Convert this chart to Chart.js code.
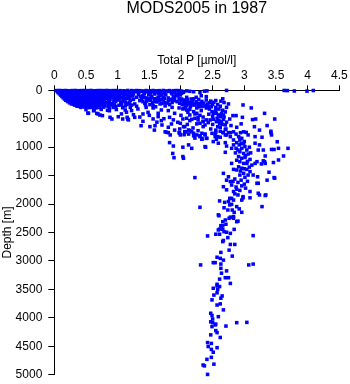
<!DOCTYPE html>
<html>
<head>
<meta charset="utf-8">
<title>MODS2005 in 1987</title>
<script src="https://cdn.jsdelivr.net/npm/chart.js@4.4.0/dist/chart.umd.min.js"></script>
<style>
  html, body { margin: 0; padding: 0; background: #fff; }
  #wrap { width: 350px; height: 384px; }
</style>
</head>
<body>
<div id="wrap"><canvas id="profile" width="350" height="384"></canvas></div>
<script>
/* ===== Data: [total P (µmol/l), depth (m)] ===== */
const pTicks = [0, 0.5, 1, 1.5, 2, 2.5, 3, 3.5, 4, 4.5];
const depthTicks = [0, 500, 1000, 1500, 2000, 2500, 3000, 3500, 4000, 4500, 5000];

// near-surface samples, 0-60 m
const surfaceBand = [
  [0.03, 5], [0.08, 3], [0.13, 6], [0.18, 4], [0.23, 8], [0.28, 5], [0.33, 3], [0.38, 7],
  [0.43, 5], [0.48, 4], [0.53, 6], [0.58, 3], [0.63, 8], [0.68, 5], [0.73, 4], [0.78, 6],
  [0.83, 3], [0.88, 7], [0.93, 5], [0.98, 4], [1.04, 6], [1.1, 8], [1.16, 3], [1.22, 5],
  [1.27, 10], [1.3, 4], [1.35, 7], [1.4, 12], [1.45, 5], [1.51, 8], [1.56, 4], [1.61, 9],
  [1.66, 6], [1.72, 3], [1.77, 11], [1.82, 5], [1.88, 7], [1.93, 4], [1.98, 6], [2.01, 15],
  [2.09, 10], [2.14, 18], [2.37, 14], [2.41, 10], [2.72, 2], [3.63, 3], [3.68, 5], [3.79, 12],
  [3.99, 14], [4.09, 4],
  [0.06, 40], [0.11, 38], [0.16, 42], [0.21, 36], [0.26, 41], [0.31, 39], [0.36, 44], [0.41, 37],
  [0.46, 40], [0.51, 43], [0.56, 38], [0.61, 41], [0.66, 36], [0.71, 42], [0.76, 39], [0.81, 44],
  [0.86, 37], [0.91, 40], [0.97, 43], [1.02, 38], [1.08, 45], [1.13, 35], [1.19, 48],
  [0.05, 22], [0.1, 20], [0.15, 24], [0.2, 19], [0.25, 23], [0.3, 21], [0.35, 25], [0.4, 18],
  [0.45, 22], [0.5, 26], [0.55, 20], [0.6, 23], [0.65, 19], [0.7, 24], [0.75, 21], [0.8, 25],
  [0.85, 18], [0.9, 22], [0.95, 26], [1.0, 20], [1.05, 24], [1.1, 19],
  [1.2, 30], [1.24, 55], [1.28, 25], [1.33, 45], [1.37, 20], [1.42, 40], [1.47, 28], [1.52, 50],
  [1.55, 22], [1.6, 35], [1.64, 50], [1.68, 28], [1.74, 40], [1.8, 20], [1.85, 45], [1.9, 30],
  [1.96, 40], [2.04, 35], [2.2, 25], [2.3, 40]
];

// low-P wedge and its fringe, 50-850 m
const upperWedge = [
  [0.08, 62], [0.13, 58], [0.18, 65], [0.23, 60], [0.28, 64], [0.33, 57], [0.38, 63], [0.43, 61],
  [0.48, 66], [0.53, 59], [0.58, 62], [0.63, 67], [0.68, 60], [0.73, 64], [0.78, 58], [0.83, 63],
  [0.88, 66], [0.93, 61], [0.99, 65], [1.07, 59], [1.16, 68],
  [0.1, 85], [0.15, 92], [0.2, 80], [0.25, 88], [0.3, 84], [0.35, 90], [0.4, 82], [0.45, 87],
  [0.5, 93], [0.55, 81], [0.6, 86], [0.65, 91], [0.7, 83], [0.75, 89], [0.8, 80], [0.85, 94],
  [0.9, 85], [0.96, 79], [1.03, 90], [1.12, 84],
  [0.12, 108], [0.17, 104], [0.22, 111], [0.27, 106], [0.32, 110], [0.37, 103], [0.42, 109],
  [0.47, 112], [0.52, 105], [0.57, 108], [0.62, 113], [0.67, 106], [0.72, 110], [0.77, 104],
  [0.82, 109], [0.87, 114], [0.94, 107], [1.01, 111], [1.09, 105], [1.18, 112],
  [0.14, 130], [0.19, 126], [0.24, 134], [0.29, 128], [0.34, 132], [0.39, 125], [0.44, 131],
  [0.49, 136], [0.54, 127], [0.59, 133], [0.64, 129], [0.69, 135], [0.74, 124], [0.79, 130],
  [0.84, 138], [0.9, 126], [0.98, 133], [1.06, 128], [1.15, 140],
  [0.16, 152], [0.21, 149], [0.26, 155], [0.31, 150], [0.36, 154], [0.41, 147], [0.46, 153],
  [0.51, 156], [0.56, 150], [0.61, 152], [0.66, 157], [0.71, 149], [0.76, 154], [0.82, 151],
  [0.88, 158], [0.95, 150], [1.03, 155], [1.12, 148],
  [0.18, 175], [0.23, 170], [0.28, 178], [0.33, 172], [0.38, 180], [0.43, 174], [0.48, 169],
  [0.53, 177], [0.58, 183], [0.63, 171], [0.68, 176], [0.73, 181], [0.78, 168], [0.86, 179],
  [0.94, 186], [1.0, 172], [1.1, 182],
  [0.21, 198], [0.26, 194], [0.31, 201], [0.36, 196], [0.41, 200], [0.46, 193], [0.51, 199],
  [0.56, 203], [0.61, 195], [0.66, 198], [0.71, 204], [0.79, 196], [0.87, 202], [0.97, 195],
  [1.08, 200],
  [0.24, 220], [0.29, 215], [0.34, 224], [0.39, 218], [0.44, 226], [0.49, 219], [0.54, 213],
  [0.59, 222], [0.64, 228], [0.69, 216], [0.76, 225], [0.82, 219], [0.92, 231], [1.05, 214],
  [0.27, 240], [0.31, 244], [0.36, 238], [0.41, 242], [0.46, 246], [0.51, 239], [0.56, 243],
  [0.61, 237], [0.66, 245], [0.71, 240], [0.78, 244], [0.86, 238], [0.95, 242],
  [0.32, 260], [0.37, 255], [0.42, 264], [0.47, 258], [0.52, 266], [0.57, 261], [0.62, 254],
  [0.67, 268], [0.73, 259], [0.8, 272], [0.9, 256], [1.02, 263], [1.14, 250],
  [0.36, 280], [0.4, 284], [0.45, 278], [0.5, 282], [0.55, 286], [0.6, 279], [0.65, 283],
  [0.7, 277], [0.77, 285], [0.85, 280], [0.97, 284],
  [0.42, 300], [0.48, 296], [0.55, 305], [0.6, 298], [0.66, 310], [0.71, 302], [0.78, 295],
  [0.87, 312], [0.96, 300], [1.08, 306],
  [0.5, 340], [0.63, 345], [0.74, 336], [0.84, 350], [0.98, 338], [1.12, 347],
  [0.53, 400], [0.69, 415], [0.76, 445], [0.88, 475], [0.91, 505], [1.01, 465], [1.06, 415],
  [1.08, 505], [1.15, 475], [1.17, 520], [1.14, 385], [0.62, 360], [0.54, 405], [0.67, 405],
  [0.72, 435], [0.87, 360], [0.93, 300],
  [1.18, 130], [1.2, 175], [1.22, 260], [1.24, 100], [1.17, 240], [1.13, 210], [1.09, 160],
  [1.12, 275], [1.06, 250], [1.2, 300],
  [1.22, 95], [1.3, 123], [1.4, 95], [1.45, 135], [1.53, 112], [1.61, 153], [1.67, 95],
  [1.72, 123], [1.8, 135], [1.88, 112], [1.95, 95], [2.01, 153], [2.09, 123], [2.16, 153],
  [2.24, 123], [2.32, 95], [2.4, 112],
  [1.25, 60], [1.33, 70], [1.42, 60], [1.49, 75], [1.58, 65], [1.7, 70], [1.76, 80], [1.86, 62],
  [1.92, 70], [1.25, 160], [1.38, 150], [1.5, 165], [1.62, 145], [1.72, 170], [1.88, 150],
  [1.36, 110], [1.42, 125], [1.48, 140], [1.54, 125], [1.58, 150], [1.64, 118], [1.68, 160],
  [1.74, 140], [1.8, 185], [1.85, 160], [1.9, 125], [1.94, 200], [1.4, 200], [1.46, 190],
  [1.55, 215], [1.62, 205], [1.7, 230], [1.78, 225], [1.86, 215], [1.44, 255], [1.56, 265],
  [1.66, 180], [1.52, 175],
  [1.19, 211], [1.27, 240], [1.35, 182], [1.43, 228], [1.51, 252], [1.59, 193], [1.67, 240],
  [1.74, 211], [1.82, 252], [1.9, 182], [1.98, 228], [2.09, 270], [2.14, 211], [2.22, 252],
  [2.3, 228], [2.38, 270], [2.05, 200], [2.18, 180], [2.28, 160],
  [1.22, 357], [1.32, 328], [1.4, 416], [1.48, 387], [1.56, 311], [1.64, 404], [1.69, 346],
  [1.8, 357], [1.9, 404], [2.03, 328], [2.11, 387], [2.22, 416], [2.32, 357], [2.4, 311],
  [1.3, 280], [1.45, 300], [1.6, 290], [1.75, 275], [1.86, 300], [1.97, 310],
  [1.16, 504], [1.27, 475], [1.4, 545], [1.56, 504], [1.64, 463], [1.69, 533], [1.82, 475],
  [1.95, 562], [2.03, 504], [2.14, 533], [2.27, 475], [2.35, 545],
  [1.25, 430], [1.35, 470], [1.5, 440], [1.62, 560], [1.73, 500], [1.88, 520], [2.0, 440],
  [2.1, 600], [2.25, 590], [1.7, 610], [1.9, 700], [2.05, 780], [2.22, 840], [1.58, 700]
];

// high-P core, 50-1000 m
const thermocline = [
  [2.01, 53], [1.99, 82], [2.06, 170], [2.09, 217], [2.04, 229], [2.12, 240], [2.17, 229],
  [2.2, 258], [2.22, 240], [2.27, 240], [2.3, 258], [2.33, 287], [2.35, 258], [2.38, 275],
  [2.43, 287], [2.49, 375], [2.51, 404], [2.54, 375], [2.56, 404], [2.59, 434], [2.62, 463],
  [2.64, 404], [2.67, 434],
  [1.97, 150], [2.0, 180], [2.02, 250], [2.07, 290], [2.1, 160], [2.15, 285], [2.2, 150],
  [2.24, 200], [2.28, 290], [2.33, 195], [2.36, 225], [2.4, 170], [2.42, 240], [2.47, 190],
  [2.52, 210], [2.58, 250], [2.62, 280], [2.68, 215], [2.72, 300], [2.55, 340], [2.48, 290],
  [2.63, 190],
  [2.04, 317], [2.09, 346], [2.14, 334], [2.2, 375], [2.25, 404], [2.14, 434], [2.09, 492],
  [2.17, 510], [2.22, 492], [2.27, 521], [2.3, 580], [2.35, 551], [2.38, 609], [2.43, 568],
  [2.46, 521], [2.51, 510], [2.56, 551], [2.61, 580], [2.64, 551], [2.67, 510], [2.7, 609],
  [2.62, 650],
  [1.99, 580], [2.04, 639], [2.06, 727], [2.12, 697], [2.2, 756], [2.25, 785], [2.3, 815],
  [2.33, 861], [2.38, 768], [2.41, 844], [2.49, 756], [2.54, 815], [2.51, 902], [2.56, 861],
  [2.62, 826], [2.7, 785], [2.75, 744], [2.78, 815], [2.83, 873], [2.88, 920], [2.93, 844],
  [2.45, 220], [2.5, 250], [2.55, 300], [2.6, 330], [2.66, 350], [2.7, 380], [2.45, 330],
  [2.5, 460], [2.57, 490], [2.6, 530], [2.68, 470], [2.72, 560], [2.65, 600], [2.58, 640],
  [2.5, 600], [2.44, 420], [2.47, 680], [2.55, 700], [2.62, 720], [2.7, 690], [2.35, 470],
  [2.4, 520], [2.3, 440], [2.25, 310], [2.55, 180], [2.66, 150], [2.75, 240],
  [2.98, 258], [3.11, 310], [3.32, 405], [3.48, 505], [3.36, 620], [3.24, 700], [3.42, 720],
  [3.16, 640], [3.18, 505], [3.13, 515], [2.97, 475], [2.95, 590], [2.88, 650], [2.82, 445],
  [2.87, 445], [2.77, 505], [2.79, 620], [2.71, 680], [2.66, 740], [2.55, 740], [3.03, 740],
  [1.37, 622], [1.51, 639], [1.59, 622], [1.8, 650], [1.85, 592], [1.98, 680], [2.06, 639],
  [2.14, 710], [2.19, 662], [2.27, 710], [2.35, 639], [1.77, 738], [1.98, 756],
  [1.75, 730], [1.8, 745], [1.83, 785], [1.97, 745], [1.99, 785], [2.08, 730], [2.12, 770],
  [2.17, 730], [2.2, 800], [2.3, 800], [2.33, 845], [2.4, 845], [2.33, 755], [2.38, 785],
  [2.33, 860], [2.54, 770], [2.58, 815], [2.67, 745], [2.72, 785], [2.78, 745], [2.83, 730],
  [2.87, 770], [2.94, 745], [2.99, 730], [3.06, 785], [3.17, 815], [3.28, 825], [3.42, 745],
  [3.43, 785]
];

// 800-2000 m
const midColumn = [
  [2.38, 990], [1.82, 920], [1.88, 980], [1.87, 1110], [1.89, 1185], [2.03, 1000], [2.12, 960],
  [2.17, 1020], [2.03, 1165], [2.04, 1195], [2.22, 1535],
  [3.52, 905], [3.69, 1020], [3.62, 1155], [3.54, 1225], [3.46, 1270], [3.39, 1440], [3.47, 1535],
  [3.32, 1255], [3.27, 1295], [2.39, 1000], [2.59, 930], [2.7, 920], [2.72, 980], [2.7, 1090],
  [2.8, 1020], [2.83, 960], [2.87, 1020],
  [2.91, 815], [2.93, 875], [2.96, 845], [2.99, 930], [2.92, 960], [2.96, 1020], [3.01, 990],
  [3.04, 1050], [2.93, 1080], [2.99, 1110], [3.06, 1120], [2.91, 1165], [2.96, 1195], [3.01, 1180],
  [3.09, 1215], [2.93, 1255], [2.99, 1285], [3.04, 1285], [3.12, 1315], [2.91, 1345], [2.96, 1370],
  [3.04, 1390], [3.09, 1430], [2.99, 1460], [2.93, 1490], [3.06, 1490], [3.01, 1530], [3.14, 1490],
  [3.0, 900], [2.95, 940], [3.08, 1000], [2.9, 1050], [3.02, 1150], [2.88, 1230], [3.08, 1350],
  [2.94, 1420], [3.0, 1380], [3.05, 1250], [2.86, 1100], [3.1, 1100],
  [3.17, 930], [3.24, 960], [3.3, 1050], [3.22, 1050], [3.33, 1155], [3.17, 1285], [3.2, 1255],
  [3.47, 1040], [3.43, 1040], [3.54, 1020],
  [2.67, 1460], [2.75, 1520], [2.72, 1580], [2.78, 1605], [2.8, 1665], [2.67, 1695], [2.72, 1750],
  [2.83, 1780], [2.88, 1740], [2.8, 1900], [2.98, 1870], [3.09, 1780], [3.24, 1840], [3.22, 1635],
  [3.36, 1580], [2.83, 1390], [2.88, 1400], [2.8, 1285],
  [3.48, 1545], [3.33, 1285], [3.3, 1240], [3.22, 1810], [3.34, 1840], [3.28, 2045], [3.2, 1635],
  [3.21, 1520],
  [2.85, 1560], [2.9, 1620], [2.95, 1580], [3.0, 1650], [2.87, 1700], [2.93, 1760], [3.02, 1720],
  [2.9, 1840], [2.85, 1820], [2.96, 1680], [2.82, 1600], [3.05, 1600]
];

// below 1850 m
const deepColumn = [
  [2.3, 2057], [2.61, 1945], [2.69, 1970], [2.75, 1955], [2.77, 1900], [2.83, 1930], [2.77, 2015],
  [2.8, 2005], [2.88, 2045], [2.98, 1890], [2.96, 1930], [3.09, 1890], [3.33, 1850], [2.68, 2065],
  [2.74, 2105], [2.81, 2105], [2.84, 2145], [2.92, 2085], [2.96, 2145], [2.6, 2205], [2.76, 2250],
  [2.83, 2250], [2.9, 2300], [2.7, 2280], [2.66, 2310], [2.63, 2380], [2.66, 2380], [2.71, 2355],
  [2.61, 2440], [2.66, 2445], [2.59, 2455], [2.68, 2485], [2.72, 2495], [2.78, 2515], [2.84, 2445],
  [2.42, 2560], [2.55, 2530], [2.61, 2530], [2.74, 2590], [2.67, 2640], [2.66, 2660], [2.78, 2710],
  [2.85, 2710], [3.14, 2555], [2.76, 2810], [2.63, 2850], [2.57, 2935], [2.62, 2955], [2.67, 2985],
  [2.81, 2915], [2.31, 3070], [2.51, 3030], [2.54, 3030], [2.63, 3055], [3.07, 3070], [3.14, 3055],
  [2.63, 3130], [2.64, 3215], [2.72, 3175], [2.7, 3295], [2.75, 3295], [2.61, 3320], [2.78, 3395],
  [2.57, 3410], [2.59, 2190], [2.64, 2400], [2.88, 2310], [2.78, 2230], [2.83, 2220],
  [2.51, 3480], [2.57, 3440], [2.61, 3450], [2.58, 3500], [2.57, 3560], [2.52, 3600], [2.65, 3615],
  [2.63, 3655], [2.49, 3685], [2.62, 3755], [2.57, 3775], [2.67, 3860], [2.47, 3920], [2.49, 3960],
  [2.59, 3980], [2.5, 4020], [2.47, 4070], [2.5, 4085], [2.55, 4110], [2.54, 4125], [2.49, 4155],
  [2.71, 4145], [2.88, 4085], [3.04, 4080], [2.55, 4225], [2.57, 4260], [2.47, 4300], [2.62, 4345],
  [2.42, 4435], [2.48, 4450], [2.43, 4505], [2.57, 4525], [2.48, 4555], [2.51, 4605], [2.48, 4695],
  [2.41, 4730], [2.52, 4815], [2.35, 4830], [2.37, 4845], [2.42, 4995]
];

/* ===== Chart ===== */
const fontFamily = "'Liberation Sans', Arial, Helvetica, sans-serif";
const ink = '#000000';
const markerBlue = '#0000ff';

const samples = [...surfaceBand, ...upperWedge, ...thermocline, ...midColumn, ...deepColumn]
  .map(([p, d]) => ({ x: p, y: d }));

new Chart(document.getElementById('profile'), {
  type: 'scatter',
  data: {
    datasets: [{
      data: samples,
      pointStyle: 'rect',
      pointRadius: 2.5,
      pointBorderWidth: 0,
      backgroundColor: markerBlue,
      clip: false
    }]
  },
  options: {
    responsive: false,
    animation: false,
    events: [],
    layout: { padding: { top: 0, right: 10.7, bottom: 9.3, left: 0 } },
    plugins: {
      legend: { display: false },
      tooltip: { enabled: false },
      title: {
        display: true,
        text: 'MODS2005 in 1987',
        fullSize: false,
        color: ink,
        font: { family: fontFamily, size: 16, weight: 'normal', lineHeight: 1 },
        padding: { top: 1, bottom: 33 }
      }
    },
    scales: {
      x: {
        type: 'linear',
        position: 'top',
        min: pTicks[0],
        max: pTicks[pTicks.length - 1],
        afterBuildTicks: s => { s.ticks = pTicks.map(v => ({ value: v })); },
        afterFit: s => { s.height = 40.3; s.paddingLeft = 0; s.paddingRight = 0; },
        grid: { drawOnChartArea: false, drawTicks: true, tickLength: 5, color: ink },
        border: { display: true, color: ink, width: 1 },
        ticks: {
          color: ink,
          padding: 2,
          maxRotation: 0,
          font: { family: fontFamily, size: 12 },
          callback: v => String(v)
        },
        title: {
          display: true,
          text: 'Total P [µmol/l]',
          color: ink,
          font: { family: fontFamily, size: 12 },
          padding: { top: 3, bottom: 0 }
        }
      },
      y: {
        type: 'linear',
        reverse: true,
        min: depthTicks[0],
        max: depthTicks[depthTicks.length - 1],
        afterBuildTicks: s => { s.ticks = depthTicks.map(v => ({ value: v })); },
        afterFit: s => { s.width = 54.3; s.paddingTop = 0; s.paddingBottom = 0; },
        grid: { drawOnChartArea: false, drawTicks: true, tickLength: 6, color: ink },
        border: { display: true, color: ink, width: 1 },
        ticks: {
          color: ink,
          padding: 6,
          font: { family: fontFamily, size: 12 },
          callback: v => String(v)
        },
        title: {
          display: true,
          text: 'Depth [m]',
          color: ink,
          font: { family: fontFamily, size: 12 },
          padding: { top: 0, bottom: 0 }
        }
      }
    }
  }
});
</script>
</body>
</html>
